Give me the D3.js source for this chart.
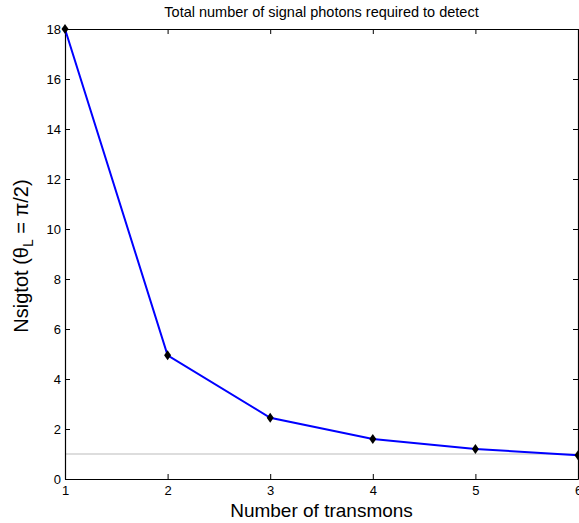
<!DOCTYPE html>
<html>
<head>
<meta charset="utf-8">
<script src="https://cdn.jsdelivr.net/npm/d3@7"></script>
<style>
  body { margin: 0; background: #fff; }
  text { font-family: "Liberation Sans", Arial, Helvetica, sans-serif; }
</style>
</head>
<body>
<script>
const transmons = [1, 2, 3, 4, 5, 6];
const nsigtot = [18, 4.95, 2.45, 1.6, 1.2, 0.95];
const xTicks = [1, 2, 3, 4, 5, 6];
const yTicks = [0, 2, 4, 6, 8, 10, 12, 14, 16, 18];
const refLevel = 1;

const width = 579;
const height = 523;
const margin = { top: 29, right: 1, bottom: 44, left: 65 };

const svg = d3.select('body')
  .append('svg')
  .attr('width', width)
  .attr('height', height);

const x = d3.scaleLinear().domain([1, 6]).range([margin.left, width - margin.right]);
const y = d3.scaleLinear().domain([0, 18]).range([height - margin.bottom, margin.top]);

const tickLen = 5;

// reference line at 1
svg.append('line')
  .attr('x1', x(1)).attr('x2', x(6))
  .attr('y1', y(refLevel)).attr('y2', y(refLevel))
  .attr('stroke', '#bbbbbb')
  .attr('stroke-width', 1);

// axes with inward ticks on all sides
svg.append('g')
  .attr('transform', `translate(0,${y(0)})`)
  .call(d3.axisBottom(x).tickValues(xTicks).tickFormat(d3.format('d')).tickSizeInner(-tickLen).tickSizeOuter(0).tickPadding(7));
svg.append('g')
  .attr('transform', `translate(0,${y(18)})`)
  .call(d3.axisTop(x).tickValues(xTicks).tickFormat('').tickSizeInner(-tickLen).tickSizeOuter(0));
svg.append('g')
  .attr('transform', `translate(${x(1)},0)`)
  .call(d3.axisLeft(y).tickValues(yTicks).tickFormat(d3.format('d')).tickSizeInner(-tickLen).tickSizeOuter(0).tickPadding(4));
svg.append('g')
  .attr('transform', `translate(${x(6)},0)`)
  .call(d3.axisRight(y).tickValues(yTicks).tickFormat('').tickSizeInner(-tickLen).tickSizeOuter(0));

svg.selectAll('.domain').attr('stroke', '#000').attr('stroke-width', 1.2);
svg.selectAll('.tick line').attr('stroke', '#000');
svg.selectAll('.tick text')
  .attr('fill', '#000')
  .style('font-size', '13px')
  .style('font-family', '"Liberation Sans", Arial, sans-serif');

// data line
const line = d3.line()
  .x((d, i) => x(transmons[i]))
  .y(d => y(d));

svg.append('path')
  .datum(nsigtot)
  .attr('fill', 'none')
  .attr('stroke', '#0000ff')
  .attr('stroke-width', 2)
  .attr('d', line);

svg.selectAll('.marker')
  .data(nsigtot)
  .enter().append('path')
  .attr('class', 'marker')
  .attr('transform', (d, i) => `translate(${x(transmons[i])},${y(d)})`)
  .attr('d', 'M0,-5L3.5,0L0,5L-3.5,0Z')
  .attr('fill', '#000');

// title & labels
svg.append('text')
  .attr('x', (x(1) + x(6)) / 2)
  .attr('y', 17)
  .attr('text-anchor', 'middle')
  .style('font-size', '14.5px')
  .text('Total number of signal photons required to detect');

svg.append('text')
  .attr('x', (x(1) + x(6)) / 2)
  .attr('y', 517)
  .attr('text-anchor', 'middle')
  .style('font-size', '19px')
  .text('Number of transmons');

const ylab = svg.append('text')
  .attr('transform', `translate(28,${(y(0) + y(18)) / 2 + 2}) rotate(-90)`)
  .attr('text-anchor', 'middle')
  .style('font-size', '20px');
ylab.append('tspan').text('Nsigtot (θ');
ylab.append('tspan').attr('dy', 5).style('font-size', '14px').text('L');
ylab.append('tspan').attr('dy', -5).text(' = π/2)');
</script>
</body>
</html>
